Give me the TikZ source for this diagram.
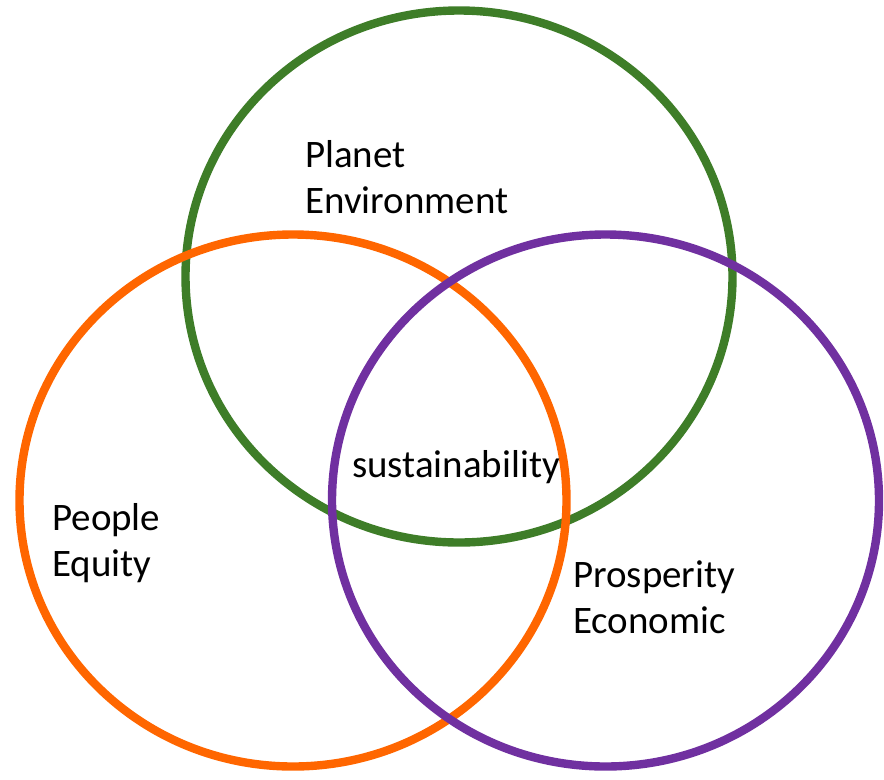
\documentclass[tikz,border=0pt]{standalone}
\usepackage{fontspec}
\setmainfont{Carlito}
\usepackage{tikz}
\definecolor{planetgreen}{RGB}{62,125,40}
\definecolor{peopleorange}{RGB}{255,102,0}
\definecolor{prosperpurple}{RGB}{112,48,160}
\tikzset{
ring/.style={line width=6.3pt},
lbl/.style={font=\fontsize{29.2}{34.5}\selectfont,inner sep=0pt,anchor=base west}
}
\begin{document}
\begin{tikzpicture}[x=0.75pt,y=-0.75pt]
\useasboundingbox (0,0) rectangle (884,779);
% the three pillars
\draw[ring,planetgreen] (459,276.5) ellipse [x radius=273.5,y radius=266];
\draw[ring,peopleorange] (293,500.5) ellipse [x radius=273.5,y radius=266];
\draw[ring,prosperpurple] (605.5,500.5) ellipse [x radius=273.5,y radius=266];
% labels
\node[lbl] (planet) at (305,167) {Planet};
\node[lbl] (environment) at (305,213) {Environment};
\node[lbl] (people) at (52,530) {People};
\node[lbl] (equity) at (52,576) {Equity};
\node[lbl] (prosperity) at (573,587) {Prosperity};
\node[lbl] (economic) at (573,633) {Economic};
\node[lbl] (sust) at (352,477) {sustainability};
\end{tikzpicture}
\end{document}
